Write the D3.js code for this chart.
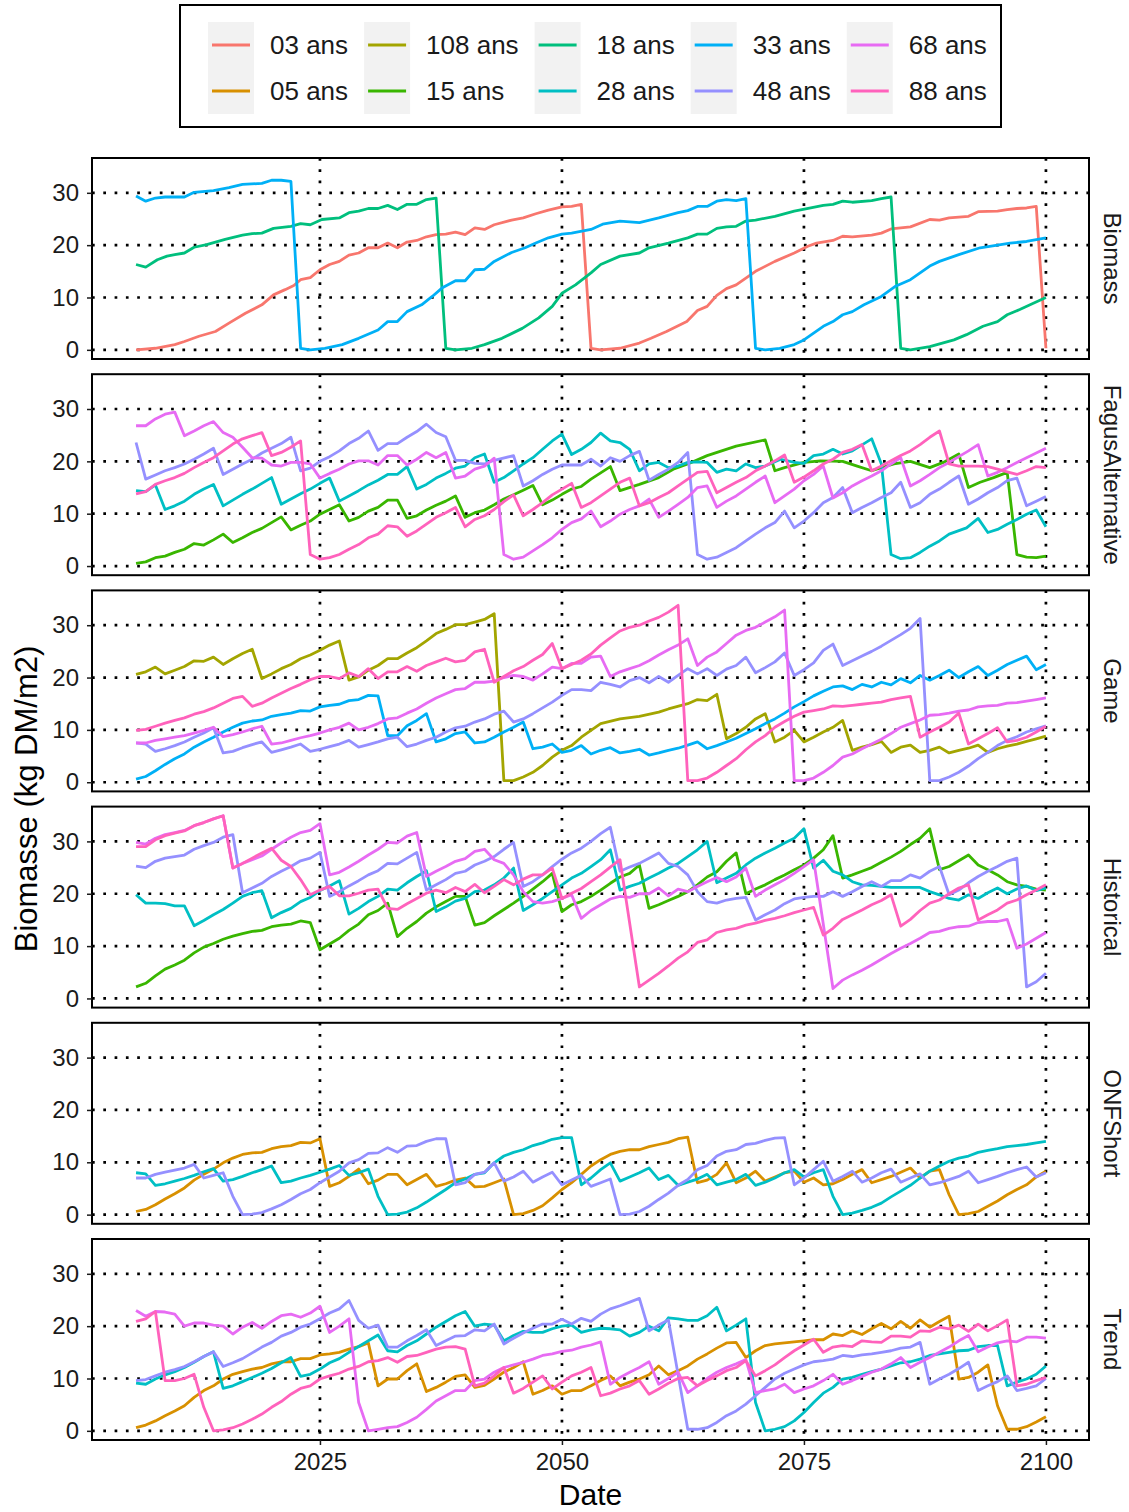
<!DOCTYPE html>
<html lang="fr">
<head>
<meta charset="UTF-8">
<title>Biomasse par scénario</title>
<script src="https://cdnjs.cloudflare.com/ajax/libs/d3/7.8.5/d3.min.js"></script>
<style>
  body { margin: 0; background: #fff; }
  svg { font-family: "Liberation Sans", Arial, sans-serif; }
</style>
</head>
<body>
<div id="chart"></div>
<script>
// facets, colour groups, ticks
const scenarios = ["Biomass", "FagusAlternative", "Game", "Historical", "ONFShort", "Trend"];
const ages = ["03 ans", "05 ans", "108 ans", "15 ans", "18 ans", "28 ans", "33 ans", "48 ans", "68 ans", "88 ans"];
const ageColors = ["#F8766D", "#D89000", "#A3A500", "#39B600", "#00BF7D", "#00BFC4", "#00B0F6", "#9590FF", "#E76BF3", "#FF62BC"];
const yTicks = [0, 10, 20, 30];
const xTicks = [2025, 2050, 2075, 2100];

// ---- Biomass ----
const biomass_03 = [[2006,0],[2008,0.3],[2010,1.0],[2011,1.6],[2012.5,2.6],[2014.2,3.5],[2015.6,5.1],[2017.3,7.0],[2019,8.6],[2020.2,10.5],[2021.4,11.5],[2022.3,12.3],[2023,13.4],[2024,13.8],[2025,15.3],[2026,16.3],[2027,16.9],[2028,18.1],[2029,18.5],[2030,19.5],[2031,19.5],[2032,20.4],[2033,19.5],[2034,20.6],[2035,20.9],[2036,21.6],[2037,22.0],[2038,22.1],[2039,22.5],[2040,22.0],[2041,23.3],[2042,23.0],[2043,23.9],[2044.8,24.8],[2046,25.2],[2047.3,26.0],[2048.6,26.7],[2050,27.3],[2051,27.4],[2052,27.8],[2053,0.3],[2054,0],[2056,0.3],[2058,1.3],[2059.2,2.2],[2060.8,3.5],[2062.9,5.4],[2064,7.5],[2065,8.3],[2066,10.4],[2067,11.7],[2068,12.4],[2069,13.7],[2070,15.0],[2072,16.9],[2074,18.5],[2075.4,19.8],[2076.3,20.4],[2078,20.9],[2079,21.7],[2080,21.6],[2082,21.9],[2083,22.3],[2084,23.1],[2086,23.5],[2088,24.9],[2089,24.8],[2090,25.2],[2092,25.5],[2093,26.4],[2095,26.5],[2096,26.8],[2097,27.0],[2098,27.1],[2099,27.4],[2100,0.3]];
const biomass_18 = [[2006,16.3],[2007,15.8],[2008.2,17.2],[2009.2,17.9],[2010,18.2],[2011,18.5],[2012,19.6],[2013.3,20.1],[2015.2,21.1],[2017,21.9],[2018,22.2],[2019,22.3],[2020.2,23.2],[2022,23.6],[2023,24.1],[2024,23.9],[2025.2,24.9],[2027,25.2],[2028,26.2],[2029,26.5],[2030,27.0],[2031,27.0],[2032,27.6],[2033,26.8],[2034,27.8],[2035,27.8],[2036,28.7],[2037,29.0],[2038,0.3],[2039,0],[2040.7,0.3],[2042,1.0],[2043.8,2.2],[2045.9,4.1],[2047.6,6.1],[2049,8.3],[2050,10.8],[2051.4,12.4],[2053,14.7],[2054,16.3],[2056,17.9],[2058,18.5],[2059,19.5],[2061,20.4],[2063,21.4],[2064,22.1],[2065,22.1],[2066,23.2],[2067,23.5],[2068,23.6],[2069,24.6],[2070,24.8],[2072,25.5],[2074,26.5],[2075.7,27.1],[2077,27.6],[2078,27.8],[2079,28.4],[2080,28.2],[2082,28.5],[2083,28.9],[2084,29.2],[2085,0.3],[2086,0],[2088,0.6],[2090.5,1.9],[2091.8,2.9],[2093.5,4.5],[2095,5.4],[2096,6.7],[2097.3,7.7],[2098.7,8.9],[2100,10.0]];
const biomass_33 = [[2006,29.4],[2007,28.4],[2008,29.0],[2009,29.2],[2011,29.2],[2012,30.1],[2014,30.4],[2015.6,31.0],[2017,31.6],[2019,31.8],[2020,32.4],[2021,32.4],[2022,32.2],[2023,0.3],[2024,0],[2025.5,0.3],[2027.3,1.0],[2029,2.2],[2031,3.8],[2032,5.4],[2033,5.4],[2034,7.3],[2035.5,8.6],[2036.6,10.2],[2037.6,11.8],[2039,13.2],[2040,13.2],[2041,15.3],[2042,15.4],[2043,16.9],[2044.8,18.6],[2046.2,19.5],[2047.3,20.4],[2048.6,21.4],[2050,22.1],[2051,22.3],[2053,23.0],[2054.2,24.0],[2056,24.6],[2058,24.3],[2060,25.2],[2062,26.2],[2063,26.6],[2064,27.4],[2065,27.4],[2066,28.4],[2067,28.7],[2068,28.5],[2069,28.9],[2070,0.3],[2071,0],[2072.5,0.3],[2074,1.0],[2075,1.9],[2076,3.2],[2077,4.5],[2078,5.4],[2079,6.7],[2080,7.3],[2081.2,8.6],[2083,10.2],[2084.4,12.1],[2086,13.4],[2088,16.0],[2089,16.9],[2091,18.2],[2093.2,19.5],[2095,20.0],[2096.3,20.4],[2098,20.7],[2100,21.4]];

// ---- FagusAlternative ----
const fagus_15 = [[2006,0.5],[2007,0.8],[2008,1.6],[2009,1.9],[2010,2.6],[2011,3.2],[2012,4.3],[2013,4.0],[2014,5.0],[2015,6.1],[2016,4.5],[2017,5.4],[2018,6.4],[2019,7.2],[2020,8.3],[2021,9.4],[2022,6.9],[2023,7.8],[2024,8.6],[2025,9.9],[2026,10.8],[2027,11.7],[2028,8.6],[2029,9.3],[2030,10.5],[2031,11.2],[2032,12.6],[2033,12.6],[2034,9.1],[2035,9.6],[2036,10.7],[2037,11.6],[2038,12.4],[2039,13.4],[2040,9.3],[2041,10.2],[2042,10.7],[2043,11.7],[2044,12.8],[2045,13.6],[2046,14.5],[2047,15.4],[2048,11.7],[2049,12.6],[2050,13.7],[2051,14.7],[2052,15.2],[2053,16.6],[2054,17.8],[2055,19.0],[2056,14.4],[2058,15.6],[2060,16.9],[2061.5,18.5],[2063,19.5],[2065,21.1],[2068,22.9],[2071,24.1],[2072,18.2],[2073,18.8],[2075,19.8],[2076.7,20.1],[2079,20.0],[2080.5,19.1],[2082,18.2],[2083,18.8],[2084.3,19.5],[2086,20.0],[2088,18.8],[2089.4,19.8],[2091,21.4],[2092,15.0],[2093.2,16.0],[2094.6,16.9],[2096,17.9],[2097,2.2],[2098,1.7],[2099,1.6],[2100,1.9]];
const fagus_28 = [[2006,14.4],[2007,14.2],[2008,15.5],[2009,10.8],[2010,11.5],[2011,12.4],[2012,13.7],[2013,14.7],[2014,15.6],[2015,11.5],[2016,12.6],[2017,13.7],[2018,14.7],[2019,15.8],[2020,16.9],[2021,11.8],[2022,12.8],[2023,13.8],[2024,14.7],[2025,15.8],[2026,16.8],[2027,12.4],[2028,13.4],[2029,14.4],[2030,15.5],[2031,16.4],[2032,17.5],[2033,17.5],[2034,19.0],[2035,14.7],[2036,15.6],[2037,16.8],[2038,17.7],[2039,18.7],[2040,19.1],[2041,20.7],[2042,21.4],[2043,16.0],[2044,16.9],[2045,18.2],[2046,19.5],[2047,20.7],[2048,22.3],[2049,23.9],[2050,25.2],[2051,21.3],[2052,22.3],[2053,23.6],[2054,25.4],[2055,23.9],[2056,23.6],[2057,22.3],[2058,18.2],[2059,19.5],[2060,19.8],[2061,18.8],[2062,19.1],[2063,19.8],[2064,19.9],[2065,19.8],[2066,17.9],[2067,18.5],[2068,18.2],[2069,19.5],[2070,18.8],[2071,19.1],[2072.6,20.4],[2074,19.8],[2075,19.6],[2076,21.1],[2077,21.4],[2078,22.3],[2079,21.4],[2080,22.0],[2082,24.3],[2083,19.5],[2084,2.2],[2085,1.4],[2086,1.6],[2087,2.6],[2088,3.8],[2089,4.8],[2090,6.1],[2091.8,7.3],[2093,9.1],[2094,6.4],[2095,7.0],[2096,8.0],[2097,8.9],[2098,9.9],[2099,10.7],[2100,7.5]];
const fagus_48 = [[2006,23.6],[2007,16.6],[2008,17.4],[2009,18.2],[2010,18.8],[2011,19.5],[2012,20.4],[2013,21.4],[2014,22.5],[2015,17.5],[2016,18.5],[2017,19.5],[2018,20.4],[2019,21.6],[2020,22.5],[2021,23.4],[2022,24.6],[2023,18.2],[2024,18.7],[2025,20.0],[2026,20.9],[2027,22.0],[2028,23.4],[2029,24.4],[2030,25.8],[2031,22.1],[2032,23.4],[2033,23.4],[2034,24.6],[2035,25.7],[2036,27.1],[2037,25.5],[2038,24.7],[2039,20.2],[2040,20.2],[2041,19.6],[2042,19.5],[2043,20.2],[2045,21.1],[2046,15.3],[2047,16.3],[2048,17.5],[2049,18.5],[2050,19.3],[2051,19.3],[2052,19.3],[2053,20.4],[2054,19.1],[2055,20.7],[2056,20.0],[2057,21.1],[2058,21.9],[2059,16.4],[2060,17.5],[2061,18.5],[2062,19.8],[2063,21.7],[2064,2.2],[2065,1.3],[2066,1.7],[2067,2.6],[2068,3.5],[2069,4.8],[2070,6.1],[2071,7.3],[2072,8.3],[2073,10.5],[2074,7.3],[2075,8.6],[2076,10.2],[2077,12.1],[2078,13.1],[2079,15.0],[2080,10.2],[2081,11.2],[2082,12.1],[2083,13.1],[2084,14.0],[2085,16.0],[2086,11.2],[2087,12.1],[2088,13.7],[2089,14.7],[2090,16.0],[2091,17.2],[2092,11.8],[2093,12.8],[2094,14.0],[2095,15.0],[2096,16.3],[2097,16.8],[2098,11.5],[2099,12.4],[2100,13.3]];
const fagus_68 = [[2006,26.8],[2007,26.8],[2008,28.1],[2009,29.0],[2010,29.4],[2011,24.9],[2012,25.8],[2013,26.8],[2014,27.6],[2015,25.5],[2016,24.6],[2017,22.7],[2018,20.7],[2019,20.6],[2020,19.3],[2021,19.1],[2022,19.8],[2023,19.8],[2024,19.5],[2025,16.8],[2026,17.7],[2027,18.5],[2028,19.5],[2029,20.1],[2030,20.1],[2031,19.3],[2032,21.1],[2033,21.1],[2034,19.3],[2035,20.4],[2036,21.7],[2037,20.7],[2038,21.7],[2039,16.8],[2040,17.2],[2041,18.5],[2042,19.1],[2043,20.6],[2044,2.2],[2045,1.3],[2046,1.7],[2047,2.9],[2048,4.1],[2049,5.4],[2050,7.0],[2051,8.3],[2052,9.0],[2053,10.5],[2054,7.5],[2055,8.6],[2056,9.9],[2057,10.8],[2058,11.5],[2059,12.8],[2060,9.3],[2061,10.5],[2062,11.8],[2063,13.1],[2064,15.0],[2065,15.3],[2066,11.2],[2067,12.4],[2068,13.4],[2069,14.7],[2070,16.0],[2071,17.2],[2072,12.1],[2073,13.4],[2074,14.7],[2075,16.3],[2076,17.5],[2077,19.1],[2078,13.0],[2079,14.0],[2080,15.3],[2081,16.3],[2082,17.2],[2083,18.2],[2084,19.5],[2085,20.7],[2086,15.3],[2087,16.3],[2088,17.5],[2089,18.8],[2090,19.8],[2091,20.9],[2092,22.0],[2093,23.2],[2094,17.2],[2095,17.9],[2096,18.8],[2097,19.8],[2098,20.7],[2099,21.6],[2100,22.5]];
const fagus_88 = [[2006,13.8],[2007,14.2],[2008,15.6],[2009,16.3],[2010,16.9],[2011,17.7],[2012,18.8],[2013,19.8],[2014,20.7],[2015,22.0],[2016,23.3],[2017,24.3],[2018,24.9],[2019,25.5],[2020,21.1],[2021,21.7],[2022,22.7],[2023,23.9],[2024,2.2],[2025,1.3],[2026,1.6],[2027,2.2],[2028,3.2],[2029,4.1],[2030,5.4],[2031,6.1],[2032,7.7],[2033,7.5],[2034,5.7],[2035,6.7],[2036,8.0],[2037,9.3],[2038,10.2],[2039,11.2],[2040,7.5],[2041,8.9],[2042,9.6],[2043,10.8],[2044,12.3],[2045,13.6],[2046,9.6],[2047,10.8],[2048,12.1],[2049,13.6],[2050,14.7],[2051,15.8],[2052,11.2],[2053,12.1],[2054,13.4],[2055,14.7],[2056,16.0],[2057,16.8],[2058,11.5],[2059,12.1],[2060,13.1],[2061,14.0],[2062,15.3],[2063,16.6],[2064,17.9],[2065,18.1],[2066,14.0],[2067,15.0],[2068,16.0],[2069,16.9],[2070,18.2],[2071,19.1],[2072,20.1],[2073,21.2],[2074,16.0],[2075,17.0],[2076,18.2],[2077,19.5],[2078,20.4],[2079,21.7],[2080,22.3],[2081,23.2],[2082,18.2],[2083,19.1],[2084,20.1],[2085,21.1],[2086,22.0],[2087,23.2],[2088,24.6],[2089,25.8],[2090,19.5],[2091,19.1],[2092,19.1],[2093,19.1],[2094,19.0],[2095,18.5],[2096,18.0],[2097,17.5],[2098,18.2],[2099,19.0],[2100,18.8]];

// ---- Game ----
const game_108 = [[2006,20.6],[2007,21.1],[2008,22.0],[2009,20.7],[2010,21.4],[2011,22.1],[2012,23.2],[2013,23.1],[2014,23.9],[2015,22.5],[2016,23.6],[2017,24.6],[2018,25.4],[2019,19.8],[2020,20.7],[2021,21.7],[2022,22.5],[2023,23.6],[2024,24.3],[2025,25.2],[2026,26.2],[2027,27.0],[2028,19.5],[2029,20.1],[2030,21.4],[2031,22.3],[2032,23.6],[2033,23.6],[2034,24.7],[2035,25.7],[2036,27.0],[2037,28.4],[2038,29.2],[2039,30.1],[2040,30.1],[2041,30.6],[2042,31.1],[2043,32.2],[2044,0.3],[2045,0.3],[2046,1.0],[2047,1.9],[2048,3.2],[2049,4.8],[2050,6.1],[2051,7.0],[2052,8.6],[2053,9.9],[2054,11.2],[2056,12.1],[2058,12.6],[2060,13.4],[2061,14.0],[2063,15.0],[2064,15.8],[2065,15.6],[2066,16.8],[2067,8.3],[2068,9.3],[2069,10.5],[2070,12.1],[2071,13.1],[2072,7.7],[2073,8.6],[2074,9.9],[2075,7.7],[2076,8.6],[2077,9.6],[2078,10.5],[2079,11.8],[2080,6.1],[2081,6.7],[2082,7.2],[2083,7.8],[2084,5.7],[2085,6.7],[2086,7.1],[2087,5.7],[2088,6.1],[2089,6.7],[2090,5.6],[2091,6.1],[2092,6.5],[2093,7.1],[2094,5.7],[2095,6.4],[2096,6.9],[2097,7.3],[2098,7.8],[2099,8.3],[2100,8.8]];
const game_33 = [[2006,0.6],[2007,1.1],[2008,2.2],[2009,3.4],[2010,4.5],[2011,5.4],[2012,6.7],[2013,7.7],[2014,8.6],[2015,9.6],[2016,10.5],[2017,11.3],[2018,11.7],[2019,11.9],[2020,12.6],[2021,12.9],[2022,13.2],[2023,13.7],[2024,13.6],[2025,14.4],[2026,14.7],[2027,14.9],[2028,15.6],[2029,15.8],[2030,16.6],[2031,16.5],[2032,8.9],[2033,8.9],[2034,10.8],[2035,11.8],[2036,13.1],[2037,7.7],[2038,8.3],[2039,9.3],[2040,9.6],[2041,7.5],[2042,7.7],[2043,8.6],[2044,9.6],[2045,10.5],[2046,11.5],[2047,6.4],[2048,6.7],[2049,7.3],[2050,5.7],[2051,6.1],[2052,7.0],[2053,5.4],[2054,6.1],[2055,6.6],[2056,5.6],[2057,5.9],[2058,6.3],[2059,5.2],[2060,5.6],[2061,6.1],[2062,6.5],[2063,7.1],[2064,7.7],[2065,6.4],[2066,7.0],[2067,7.7],[2068,8.4],[2069,9.3],[2070,10.2],[2071,11.2],[2072,12.1],[2073,13.2],[2074,14.4],[2075,15.4],[2076,16.5],[2077,17.4],[2078,18.2],[2079,18.4],[2080,17.7],[2081,18.7],[2082,18.2],[2083,19.1],[2084,18.6],[2085,19.8],[2086,19.0],[2087,20.4],[2088,19.5],[2089,20.4],[2090,21.4],[2091,20.0],[2092,21.1],[2093,22.1],[2094,20.4],[2095,21.4],[2096,22.5],[2097,23.3],[2098,24.1],[2099,21.5],[2100,22.5]];
const game_48 = [[2006,7.5],[2007,7.3],[2008,5.9],[2009,6.4],[2010,7.0],[2011,7.7],[2012,8.6],[2013,9.4],[2014,10.4],[2015,5.6],[2016,5.9],[2017,6.6],[2018,7.2],[2019,7.7],[2020,5.7],[2021,6.2],[2022,6.7],[2023,7.3],[2024,5.9],[2025,6.3],[2026,6.8],[2027,7.3],[2028,8.0],[2029,6.7],[2030,7.2],[2031,7.7],[2032,8.3],[2033,8.6],[2034,6.8],[2035,7.3],[2036,8.0],[2037,8.6],[2038,9.6],[2039,10.4],[2040,10.7],[2041,11.5],[2042,12.1],[2043,13.0],[2044,13.6],[2045,11.5],[2046,12.1],[2047,13.1],[2048,14.2],[2049,15.3],[2050,16.6],[2051,17.7],[2052,17.7],[2053,17.5],[2054,19.1],[2055,18.7],[2056,18.2],[2057,19.4],[2058,20.0],[2059,19.0],[2060,20.2],[2061,19.1],[2062,20.4],[2063,21.7],[2064,20.7],[2065,21.7],[2066,20.4],[2067,21.6],[2068,22.3],[2069,23.9],[2070,20.9],[2071,21.9],[2072,23.0],[2073,24.7],[2074,20.4],[2075,21.5],[2076,22.8],[2077,25.2],[2078,26.4],[2079,22.3],[2080,23.2],[2081,24.1],[2082,25.0],[2083,26.0],[2084,27.1],[2085,28.2],[2086,29.4],[2087,31.3],[2088,0.3],[2089,0.3],[2090,1.0],[2091,1.9],[2092,3.1],[2093,4.5],[2094,5.7],[2095,7.0],[2096,8.0],[2097,8.7],[2098,9.6],[2099,10.2],[2100,10.8]];
const game_68 = [[2006,7.5],[2007,7.5],[2008,8.0],[2009,8.3],[2010,8.6],[2011,8.9],[2012,9.4],[2013,9.9],[2014,10.5],[2015,8.7],[2016,9.1],[2017,9.6],[2018,10.2],[2019,10.7],[2020,7.3],[2021,7.5],[2022,8.0],[2023,8.5],[2024,8.9],[2025,9.4],[2026,10.0],[2027,10.5],[2028,11.3],[2029,10.0],[2030,10.5],[2031,11.2],[2032,12.1],[2033,12.3],[2034,13.2],[2035,14.0],[2036,15.1],[2037,16.1],[2038,16.9],[2039,17.7],[2040,17.9],[2041,19.1],[2042,19.1],[2043,19.3],[2044,20.0],[2045,20.4],[2046,20.2],[2047,19.5],[2048,20.7],[2049,22.0],[2050,21.7],[2051,22.7],[2052,22.7],[2053,23.9],[2054,24.1],[2055,20.2],[2056,21.1],[2057,21.7],[2058,22.3],[2059,23.2],[2060,24.3],[2061,25.3],[2062,26.2],[2063,27.4],[2064,22.3],[2065,23.9],[2066,24.9],[2067,26.5],[2068,28.1],[2069,29.0],[2070,29.6],[2071,30.6],[2072,31.6],[2073,32.9],[2074,0.3],[2075,0.3],[2076,0.8],[2077,1.9],[2078,3.2],[2079,4.8],[2080,5.4],[2081,6.4],[2082,7.3],[2083,8.2],[2084,9.3],[2085,10.5],[2086,11.2],[2087,11.9],[2088,12.8],[2089,12.9],[2090,13.2],[2091,13.6],[2092,13.8],[2093,14.4],[2094,14.6],[2095,14.7],[2096,15.1],[2097,15.2],[2098,15.5],[2099,15.8],[2100,16.1]];
const game_88 = [[2006,9.9],[2007,10.1],[2008,10.7],[2009,11.3],[2010,11.8],[2011,12.3],[2012,13.0],[2013,13.5],[2014,14.2],[2015,15.1],[2016,16.0],[2017,16.4],[2018,14.5],[2019,15.1],[2020,16.1],[2021,17.0],[2022,17.9],[2023,18.7],[2024,19.6],[2025,20.2],[2026,20.2],[2027,19.8],[2028,20.9],[2029,20.2],[2030,21.7],[2031,19.8],[2032,21.1],[2033,21.1],[2034,22.1],[2035,21.2],[2036,22.3],[2037,23.0],[2038,23.7],[2039,23.0],[2040,23.3],[2041,24.9],[2042,25.4],[2043,19.1],[2044,20.2],[2045,21.3],[2046,22.1],[2047,23.3],[2048,24.4],[2049,26.5],[2050,21.7],[2051,22.5],[2052,23.3],[2053,24.5],[2054,26.2],[2055,27.6],[2056,28.9],[2057,29.6],[2058,30.0],[2059,30.8],[2060,31.5],[2061,32.5],[2062,33.8],[2063,0.3],[2064,0.3],[2065,0.8],[2066,1.9],[2067,3.2],[2068,4.5],[2069,6.2],[2070,7.7],[2071,8.9],[2072,10.5],[2073,11.6],[2074,12.6],[2075,13.4],[2076,13.7],[2077,14.0],[2078,14.6],[2079,14.5],[2080,14.7],[2081,14.9],[2082,15.1],[2083,15.3],[2084,15.8],[2085,16.1],[2086,16.4],[2087,8.6],[2088,9.6],[2089,10.5],[2090,11.5],[2091,13.2],[2092,7.3],[2093,8.3],[2094,9.3],[2095,10.4],[2096,7.7],[2097,8.0],[2098,8.6],[2099,9.6],[2100,10.7]];

// ---- Historical ----
const hist_15 = [[2006,2.2],[2007,2.9],[2008,4.3],[2009,5.6],[2010,6.4],[2011,7.3],[2012,8.7],[2013,9.8],[2014,10.5],[2015,11.3],[2016,11.9],[2017,12.4],[2018,12.8],[2019,13.0],[2020,13.7],[2021,14.0],[2022,14.2],[2023,14.8],[2024,14.5],[2025,9.3],[2026,10.4],[2027,11.5],[2028,13.0],[2029,14.2],[2030,16.0],[2031,16.8],[2032,18.2],[2033,11.8],[2034,13.4],[2035,14.7],[2036,16.3],[2037,17.5],[2038,18.5],[2039,19.5],[2040,19.5],[2041,14.0],[2042,14.5],[2043,15.8],[2044,17.0],[2045,18.2],[2046,19.5],[2047,20.9],[2048,22.3],[2049,23.9],[2050,16.6],[2051,17.9],[2052,18.5],[2053,19.5],[2054,20.7],[2055,22.0],[2056,23.2],[2057,23.9],[2058,25.5],[2059,17.2],[2060,17.9],[2061,18.7],[2062,19.5],[2063,20.4],[2064,21.7],[2065,23.2],[2066,24.2],[2067,26.2],[2068,27.8],[2069,20.0],[2070,20.9],[2071,21.7],[2072,22.7],[2073,23.6],[2074,24.6],[2075,25.5],[2076,26.8],[2077,28.4],[2078,31.1],[2079,23.0],[2080,23.6],[2081,24.3],[2082,25.0],[2083,26.0],[2084,27.0],[2085,28.1],[2086,29.4],[2087,30.6],[2088,32.4],[2089,24.6],[2090,25.2],[2091,26.3],[2092,27.4],[2093,25.5],[2094,24.6],[2095,23.6],[2096,22.3],[2097,21.7],[2098,21.4],[2099,20.9],[2100,20.7]];
const hist_28 = [[2006,19.8],[2007,18.2],[2008,18.2],[2009,18.1],[2010,17.7],[2011,17.7],[2012,13.9],[2013,14.9],[2014,16.0],[2015,17.0],[2016,18.2],[2017,19.5],[2018,20.2],[2019,20.6],[2020,15.4],[2021,16.4],[2022,17.2],[2023,18.5],[2024,19.3],[2025,20.6],[2026,21.5],[2027,22.5],[2028,16.1],[2029,17.2],[2030,18.5],[2031,19.5],[2032,20.9],[2033,20.7],[2034,22.1],[2035,23.3],[2036,24.4],[2037,16.6],[2038,17.5],[2039,18.6],[2040,19.1],[2041,20.4],[2042,20.7],[2043,21.7],[2044,23.0],[2045,24.9],[2046,16.8],[2047,17.9],[2048,19.1],[2049,20.4],[2050,21.7],[2051,23.0],[2052,23.9],[2053,25.2],[2054,26.5],[2055,28.4],[2056,20.7],[2057,21.4],[2058,22.0],[2059,23.0],[2060,23.9],[2061,24.9],[2062,25.8],[2063,27.1],[2064,28.4],[2065,30.0],[2066,22.1],[2067,23.0],[2068,23.9],[2069,25.5],[2070,26.8],[2071,27.8],[2072,28.7],[2073,29.7],[2074,30.6],[2075,32.4],[2076,24.9],[2077,26.4],[2078,24.3],[2079,23.6],[2080,22.3],[2081,21.7],[2082,21.6],[2083,21.4],[2084,21.2],[2085,21.2],[2086,21.2],[2087,21.2],[2088,20.4],[2089,19.8],[2090,19.1],[2091,18.8],[2092,19.8],[2093,19.1],[2094,20.2],[2095,21.1],[2096,20.0],[2097,20.9],[2098,21.5],[2099,20.6],[2100,21.1]];
const hist_48 = [[2006,25.3],[2007,25.0],[2008,26.2],[2009,26.8],[2010,27.1],[2011,27.4],[2012,28.5],[2013,29.2],[2014,29.8],[2015,30.8],[2016,31.3],[2017,20.2],[2018,21.1],[2019,22.0],[2020,23.3],[2021,24.3],[2022,25.2],[2023,26.3],[2024,26.8],[2025,27.9],[2026,19.5],[2027,20.4],[2028,21.5],[2029,22.5],[2030,23.6],[2031,24.4],[2032,25.8],[2033,25.7],[2034,26.8],[2035,27.9],[2036,20.7],[2037,21.7],[2038,22.7],[2039,23.9],[2040,24.3],[2041,25.5],[2042,26.2],[2043,27.1],[2044,28.5],[2045,29.8],[2046,21.4],[2047,22.3],[2048,23.6],[2049,25.2],[2050,26.6],[2051,27.8],[2052,28.7],[2053,30.0],[2054,31.5],[2055,32.7],[2056,24.3],[2057,25.1],[2058,25.8],[2059,26.8],[2060,27.8],[2061,25.8],[2062,25.2],[2063,23.6],[2064,20.4],[2065,18.5],[2066,18.2],[2067,18.8],[2068,19.1],[2069,19.3],[2070,15.0],[2071,16.0],[2072,16.9],[2073,18.1],[2074,19.0],[2075,19.3],[2076,19.5],[2077,19.5],[2078,20.4],[2079,19.5],[2080,20.4],[2081,21.4],[2082,22.3],[2083,21.4],[2084,22.5],[2085,22.5],[2086,23.6],[2087,23.0],[2088,24.3],[2089,25.2],[2090,19.8],[2091,20.7],[2092,22.1],[2093,23.3],[2094,24.3],[2095,25.2],[2096,26.2],[2097,26.8],[2098,2.2],[2099,3.2],[2100,4.8]];
const hist_68 = [[2006,29.8],[2007,29.5],[2008,30.6],[2009,31.3],[2010,31.7],[2011,32.1],[2012,33.0],[2013,33.6],[2014,34.3],[2015,34.9],[2016,24.9],[2017,25.8],[2018,26.5],[2019,27.2],[2020,28.5],[2021,29.7],[2022,30.8],[2023,31.7],[2024,32.1],[2025,33.4],[2026,23.6],[2027,24.1],[2028,25.1],[2029,26.2],[2030,27.4],[2031,28.5],[2032,29.8],[2033,29.7],[2034,31.0],[2035,31.7],[2036,23.3],[2037,24.3],[2038,25.2],[2039,26.2],[2040,26.7],[2041,28.1],[2042,28.5],[2043,26.5],[2044,25.8],[2045,23.6],[2046,20.4],[2047,18.5],[2048,18.2],[2049,18.5],[2050,19.1],[2051,19.8],[2052,15.3],[2053,16.8],[2054,17.9],[2055,19.0],[2056,19.5],[2057,19.3],[2058,20.0],[2059,20.0],[2060,21.1],[2061,19.6],[2062,20.9],[2063,20.4],[2064,21.4],[2065,22.3],[2066,23.1],[2067,22.3],[2068,23.2],[2069,24.9],[2070,19.5],[2071,20.7],[2072,21.7],[2073,22.7],[2074,23.9],[2075,25.2],[2076,26.5],[2078,1.9],[2079,3.5],[2080,4.5],[2081,5.4],[2082,6.4],[2083,7.5],[2084,8.6],[2085,9.6],[2086,10.5],[2087,11.5],[2088,12.6],[2089,12.8],[2090,13.4],[2091,13.7],[2092,13.8],[2093,14.5],[2094,14.7],[2095,14.7],[2096,15.1],[2097,9.6],[2098,10.4],[2099,11.5],[2100,12.6]];
const hist_88 = [[2006,29.0],[2007,29.0],[2008,30.3],[2009,31.1],[2010,31.6],[2011,32.0],[2012,33.0],[2013,33.6],[2014,34.3],[2015,34.9],[2016,24.9],[2017,25.8],[2018,26.8],[2019,27.8],[2020,28.7],[2021,26.4],[2022,25.2],[2023,22.7],[2024,19.8],[2025,20.7],[2026,21.4],[2027,19.6],[2028,19.6],[2029,20.1],[2030,20.7],[2031,20.9],[2032,17.2],[2033,17.0],[2034,18.1],[2035,19.1],[2036,20.1],[2037,20.7],[2038,20.2],[2039,21.2],[2040,20.4],[2041,21.8],[2042,20.2],[2043,21.4],[2044,22.7],[2045,21.7],[2046,22.8],[2047,23.6],[2048,23.6],[2049,24.9],[2050,19.1],[2051,20.1],[2052,21.0],[2053,22.3],[2054,23.6],[2055,25.1],[2056,26.5],[2058,2.2],[2059,3.5],[2060,4.8],[2061,6.2],[2062,7.7],[2063,8.9],[2064,10.7],[2065,11.2],[2066,12.6],[2067,13.1],[2068,13.4],[2069,14.0],[2070,14.4],[2071,14.9],[2072,15.3],[2073,15.8],[2074,16.4],[2075,16.9],[2076,17.4],[2077,12.1],[2078,13.4],[2079,15.1],[2080,16.0],[2081,16.9],[2082,17.9],[2083,18.7],[2084,19.8],[2085,13.8],[2086,15.1],[2087,16.8],[2088,18.2],[2089,18.8],[2090,20.0],[2091,21.1],[2092,21.7],[2093,15.0],[2094,16.0],[2095,16.9],[2096,18.2],[2097,18.8],[2098,19.8],[2099,20.7],[2100,21.7]];

// ---- ONFShort ----
const onf_05 = [[2006,0.6],[2007,1.0],[2008,1.9],[2009,3.0],[2010,4.0],[2011,5.1],[2012,6.6],[2013,7.7],[2014,8.7],[2015,9.9],[2016,10.8],[2017,11.5],[2018,11.8],[2019,11.9],[2020,12.6],[2021,13.0],[2022,13.2],[2023,13.8],[2024,13.7],[2025,14.5],[2026,5.4],[2027,6.1],[2028,7.3],[2029,8.7],[2030,5.9],[2031,6.6],[2032,7.7],[2033,7.7],[2034,5.7],[2035,6.7],[2036,7.7],[2037,5.4],[2038,5.9],[2039,6.6],[2040,7.0],[2041,5.3],[2042,5.4],[2043,6.1],[2044,6.8],[2045,0],[2046,0.2],[2047,0.8],[2048,1.7],[2049,3.2],[2050,4.8],[2051,6.1],[2052,7.7],[2053,9.3],[2054,10.5],[2055,11.5],[2056,12.1],[2057,12.4],[2058,12.4],[2059,13.0],[2060,13.4],[2061,13.8],[2062,14.5],[2063,14.8],[2064,6.1],[2065,6.6],[2066,7.7],[2067,9.9],[2068,6.1],[2069,7.0],[2070,8.3],[2071,6.4],[2072,7.2],[2073,8.0],[2074,8.3],[2075,6.2],[2076,7.0],[2077,5.7],[2078,5.9],[2079,6.7],[2080,7.7],[2081,8.6],[2082,6.1],[2083,6.7],[2084,7.3],[2085,8.1],[2086,8.9],[2087,7.0],[2088,8.3],[2089,8.6],[2090,3.8],[2091,0],[2092,0.2],[2093,0.6],[2094,1.6],[2095,2.6],[2096,3.8],[2097,4.8],[2098,5.7],[2099,7.2],[2100,8.3]];
const onf_28 = [[2006,8.0],[2007,7.8],[2008,5.6],[2009,5.9],[2010,6.4],[2011,6.9],[2012,7.5],[2013,8.2],[2014,8.8],[2015,6.4],[2016,6.7],[2017,7.3],[2018,8.0],[2019,8.6],[2020,9.3],[2021,6.1],[2022,6.4],[2023,7.0],[2024,7.5],[2025,8.1],[2026,8.7],[2027,9.4],[2028,7.5],[2029,8.0],[2030,8.7],[2031,3.5],[2032,0],[2033,0.1],[2034,0.5],[2035,1.3],[2036,2.4],[2037,3.6],[2038,4.8],[2039,6.1],[2040,6.8],[2041,7.7],[2042,8.0],[2043,9.9],[2044,11.2],[2045,11.9],[2046,12.4],[2047,13.2],[2048,13.7],[2049,14.4],[2050,14.7],[2051,14.7],[2052,5.7],[2053,7.0],[2054,8.6],[2055,9.9],[2056,6.4],[2057,7.2],[2058,8.0],[2059,8.9],[2060,6.7],[2061,7.5],[2062,5.6],[2063,6.2],[2064,6.8],[2065,7.7],[2066,5.7],[2067,6.2],[2068,6.7],[2069,7.7],[2070,5.6],[2071,6.2],[2072,7.0],[2073,8.0],[2074,8.6],[2075,7.2],[2076,8.0],[2077,8.6],[2078,3.5],[2079,0],[2080,0.3],[2081,0.8],[2082,1.4],[2083,2.2],[2084,3.4],[2085,4.5],[2086,5.6],[2087,7.0],[2088,8.3],[2089,9.3],[2090,10.2],[2091,10.8],[2092,11.2],[2093,11.9],[2094,12.3],[2095,12.6],[2096,13.0],[2097,13.2],[2098,13.4],[2099,13.7],[2100,14.0]];
const onf_48 = [[2006,7.0],[2007,7.0],[2008,7.7],[2009,8.1],[2010,8.5],[2011,8.9],[2012,9.6],[2013,7.0],[2014,7.5],[2015,8.0],[2016,3.5],[2017,0],[2018,0.1],[2019,0.4],[2020,1.1],[2021,1.9],[2022,2.9],[2023,4.0],[2024,4.8],[2025,6.1],[2026,7.2],[2027,8.3],[2028,9.9],[2029,10.5],[2030,11.7],[2031,11.8],[2032,12.8],[2033,11.9],[2034,13.1],[2035,13.2],[2036,14.0],[2037,14.5],[2038,14.5],[2039,5.7],[2040,6.1],[2041,7.7],[2042,8.1],[2043,9.9],[2044,6.4],[2045,7.2],[2046,8.3],[2047,6.2],[2048,7.2],[2049,8.1],[2050,5.7],[2051,6.6],[2052,7.5],[2053,5.4],[2054,6.1],[2055,6.8],[2056,0],[2057,0.1],[2058,0.6],[2059,1.6],[2060,2.9],[2061,4.1],[2062,5.6],[2063,6.7],[2064,8.6],[2065,9.4],[2066,11.2],[2067,12.1],[2068,12.4],[2069,13.4],[2070,13.6],[2071,14.2],[2072,14.6],[2073,14.7],[2074,5.7],[2075,7.0],[2076,8.6],[2077,10.2],[2078,6.4],[2079,7.3],[2080,8.3],[2081,6.2],[2082,7.0],[2083,8.0],[2084,8.7],[2085,6.2],[2086,7.0],[2087,7.8],[2088,5.7],[2089,6.1],[2090,6.7],[2091,7.3],[2092,8.3],[2093,6.1],[2094,6.7],[2095,7.3],[2096,8.0],[2097,8.6],[2098,9.1],[2099,7.2],[2100,8.0]];

// ---- Trend ----
const trend_05 = [[2006,0.6],[2007,1.1],[2008,1.9],[2009,2.9],[2010,3.8],[2011,4.8],[2012,6.4],[2013,7.7],[2014,8.6],[2015,9.9],[2016,10.8],[2017,11.3],[2018,11.8],[2019,12.1],[2020,12.8],[2021,13.2],[2022,13.2],[2023,13.8],[2024,13.8],[2025,14.5],[2026,14.7],[2027,15.0],[2028,15.6],[2029,16.1],[2030,16.8],[2031,8.6],[2032,9.9],[2033,9.9],[2034,11.5],[2035,12.8],[2036,7.5],[2037,8.3],[2038,9.3],[2039,10.4],[2040,10.7],[2041,8.3],[2042,8.7],[2043,9.9],[2044,11.2],[2045,12.1],[2046,13.2],[2047,7.0],[2048,7.7],[2049,8.6],[2050,7.0],[2051,7.7],[2052,7.7],[2053,8.6],[2054,9.6],[2055,10.5],[2056,8.6],[2057,9.3],[2058,9.9],[2059,10.7],[2060,12.4],[2061,10.7],[2062,11.5],[2063,12.4],[2064,13.7],[2065,14.7],[2066,15.8],[2067,16.8],[2068,16.9],[2069,14.0],[2070,15.3],[2071,16.3],[2072,16.6],[2073,16.8],[2074,17.0],[2075,17.2],[2076,17.4],[2077,17.4],[2078,18.5],[2079,18.2],[2080,19.1],[2081,18.4],[2082,19.5],[2083,20.5],[2084,19.5],[2085,20.9],[2086,19.6],[2087,21.2],[2088,19.8],[2089,20.9],[2090,21.9],[2091,9.9],[2092,10.2],[2093,11.2],[2094,12.6],[2095,4.8],[2096,0.3],[2097,0.3],[2098,0.8],[2099,1.7],[2100,2.7]];
const trend_28 = [[2006,9.1],[2007,8.9],[2008,9.9],[2009,10.7],[2010,11.3],[2011,12.1],[2012,13.1],[2013,14.2],[2014,15.1],[2015,8.1],[2016,8.6],[2017,9.4],[2018,10.2],[2019,11.0],[2020,11.9],[2021,13.0],[2022,14.0],[2023,10.4],[2024,10.8],[2025,11.8],[2026,13.0],[2027,13.8],[2028,15.0],[2029,16.1],[2030,17.2],[2031,18.3],[2032,15.3],[2033,15.1],[2034,16.3],[2035,17.2],[2036,18.5],[2037,19.8],[2038,20.9],[2039,22.0],[2040,22.8],[2041,20.0],[2042,20.4],[2043,20.2],[2044,17.2],[2045,18.2],[2046,19.0],[2047,18.8],[2048,18.8],[2049,19.5],[2050,20.0],[2051,20.2],[2052,18.8],[2053,19.3],[2054,19.6],[2055,19.5],[2056,19.3],[2057,18.1],[2058,18.8],[2059,20.0],[2060,19.1],[2061,21.6],[2062,21.4],[2063,21.1],[2064,21.1],[2065,22.0],[2066,23.6],[2067,19.1],[2068,20.2],[2069,21.4],[2070,5.4],[2071,0],[2072,0.3],[2073,0.8],[2074,1.9],[2075,3.5],[2076,5.4],[2077,7.2],[2078,8.3],[2079,9.9],[2080,10.2],[2081,10.8],[2082,11.3],[2083,11.8],[2084,12.4],[2085,13.0],[2086,13.2],[2087,13.7],[2088,14.4],[2089,14.7],[2090,15.0],[2091,15.3],[2092,15.4],[2093,16.1],[2094,16.3],[2095,16.3],[2096,8.6],[2097,9.3],[2098,9.9],[2099,10.8],[2100,12.4]];
const trend_48 = [[2006,9.6],[2007,9.8],[2008,10.5],[2009,11.2],[2010,11.7],[2011,12.3],[2012,13.2],[2013,14.2],[2014,15.1],[2015,12.3],[2016,13.0],[2017,13.8],[2018,14.9],[2019,16.0],[2020,16.9],[2021,18.1],[2022,18.8],[2023,19.8],[2024,20.4],[2025,21.4],[2026,22.5],[2027,23.3],[2028,24.9],[2029,21.1],[2030,19.6],[2031,20.2],[2032,16.0],[2033,16.0],[2034,17.2],[2035,18.2],[2036,19.3],[2037,16.3],[2038,17.2],[2039,18.1],[2040,18.2],[2041,19.3],[2042,19.1],[2043,20.4],[2044,16.6],[2045,17.7],[2046,18.7],[2047,19.6],[2048,20.4],[2049,20.4],[2050,21.3],[2051,20.4],[2052,21.5],[2053,20.9],[2054,22.3],[2055,23.3],[2056,23.9],[2057,24.6],[2058,25.3],[2059,19.1],[2060,20.2],[2061,21.2],[2063,0.3],[2064,0.3],[2065,0.6],[2066,1.6],[2067,2.9],[2068,3.8],[2069,5.1],[2070,6.7],[2071,8.3],[2072,9.9],[2073,11.0],[2074,11.8],[2075,12.6],[2076,13.2],[2077,13.4],[2078,13.7],[2079,14.4],[2080,14.2],[2081,14.5],[2082,14.7],[2083,15.0],[2084,15.3],[2085,15.8],[2086,16.0],[2087,16.9],[2088,8.9],[2089,9.9],[2090,10.8],[2091,11.9],[2092,13.1],[2093,7.7],[2094,8.6],[2095,9.4],[2096,10.5],[2097,7.7],[2098,8.1],[2099,8.6],[2100,10.0]];
const trend_68 = [[2006,23.0],[2007,21.9],[2008,22.8],[2009,22.7],[2010,22.3],[2011,20.0],[2012,20.6],[2013,20.6],[2014,20.2],[2015,20.0],[2016,18.5],[2017,19.8],[2018,20.7],[2019,19.6],[2020,20.9],[2021,22.0],[2022,22.3],[2023,21.7],[2024,22.5],[2025,23.8],[2026,18.8],[2027,20.0],[2028,21.4],[2029,5.4],[2030,0],[2031,0.3],[2032,0.6],[2033,0.8],[2034,1.6],[2035,2.6],[2036,4.1],[2037,5.7],[2038,6.7],[2039,7.7],[2040,7.7],[2041,9.6],[2042,9.9],[2043,11.2],[2044,12.1],[2045,12.6],[2046,13.1],[2047,13.7],[2048,14.4],[2049,14.7],[2050,15.2],[2051,15.4],[2052,16.0],[2053,16.4],[2054,17.0],[2055,8.9],[2056,10.2],[2057,11.2],[2058,12.1],[2059,13.2],[2060,8.9],[2061,10.0],[2062,11.2],[2063,7.3],[2064,8.6],[2065,10.0],[2066,11.2],[2067,12.1],[2068,12.8],[2069,13.6],[2070,7.3],[2071,7.7],[2072,8.0],[2073,8.9],[2074,7.3],[2075,8.0],[2076,8.6],[2077,9.6],[2078,10.8],[2079,8.9],[2080,9.6],[2081,10.4],[2082,11.2],[2083,11.8],[2084,12.8],[2085,14.0],[2086,12.1],[2087,13.1],[2088,14.0],[2089,15.0],[2090,16.0],[2091,17.2],[2092,18.2],[2093,15.1],[2094,16.0],[2095,16.8],[2096,17.2],[2097,17.0],[2098,17.9],[2099,17.9],[2100,17.7]];
const trend_88 = [[2006,20.9],[2007,21.4],[2008,22.8],[2009,9.6],[2010,9.6],[2011,10.0],[2012,10.8],[2013,4.5],[2014,0],[2015,0.2],[2016,0.6],[2017,1.3],[2018,2.2],[2019,3.2],[2020,4.5],[2021,5.6],[2022,7.0],[2023,8.1],[2024,8.6],[2025,9.9],[2026,10.5],[2027,11.0],[2028,11.8],[2029,12.3],[2030,13.2],[2031,13.4],[2032,14.0],[2033,13.1],[2034,14.2],[2035,14.4],[2036,15.0],[2037,15.6],[2038,16.0],[2039,16.1],[2040,15.6],[2041,8.6],[2042,9.1],[2043,10.5],[2044,12.1],[2045,7.2],[2046,8.1],[2047,9.3],[2048,10.5],[2049,8.0],[2050,9.3],[2051,10.5],[2052,11.2],[2053,12.1],[2054,6.7],[2055,7.2],[2056,8.0],[2057,8.6],[2058,9.6],[2059,7.0],[2060,8.0],[2061,9.1],[2062,10.0],[2063,10.2],[2064,8.6],[2065,9.6],[2066,10.5],[2067,11.5],[2068,12.1],[2069,13.4],[2070,10.5],[2071,11.5],[2072,12.6],[2073,14.0],[2074,15.3],[2075,16.4],[2076,17.5],[2077,15.0],[2078,16.0],[2079,16.3],[2080,16.1],[2081,17.2],[2082,17.0],[2083,16.9],[2084,18.1],[2085,18.1],[2086,17.9],[2087,19.1],[2088,19.0],[2089,19.8],[2090,19.5],[2091,20.2],[2092,19.0],[2093,20.4],[2094,19.1],[2095,20.1],[2096,21.2],[2097,8.6],[2098,8.9],[2099,9.6],[2100,10.2]];

// which series belong to which panel
const series = [
  { scen: "Biomass", age: "03 ans", pts: biomass_03 },
  { scen: "Biomass", age: "18 ans", pts: biomass_18 },
  { scen: "Biomass", age: "33 ans", pts: biomass_33 },
  { scen: "FagusAlternative", age: "15 ans", pts: fagus_15 },
  { scen: "FagusAlternative", age: "28 ans", pts: fagus_28 },
  { scen: "FagusAlternative", age: "48 ans", pts: fagus_48 },
  { scen: "FagusAlternative", age: "68 ans", pts: fagus_68 },
  { scen: "FagusAlternative", age: "88 ans", pts: fagus_88 },
  { scen: "Game", age: "108 ans", pts: game_108 },
  { scen: "Game", age: "33 ans", pts: game_33 },
  { scen: "Game", age: "48 ans", pts: game_48 },
  { scen: "Game", age: "68 ans", pts: game_68 },
  { scen: "Game", age: "88 ans", pts: game_88 },
  { scen: "Historical", age: "15 ans", pts: hist_15 },
  { scen: "Historical", age: "28 ans", pts: hist_28 },
  { scen: "Historical", age: "48 ans", pts: hist_48 },
  { scen: "Historical", age: "68 ans", pts: hist_68 },
  { scen: "Historical", age: "88 ans", pts: hist_88 },
  { scen: "ONFShort", age: "05 ans", pts: onf_05 },
  { scen: "ONFShort", age: "28 ans", pts: onf_28 },
  { scen: "ONFShort", age: "48 ans", pts: onf_48 },
  { scen: "Trend", age: "05 ans", pts: trend_05 },
  { scen: "Trend", age: "28 ans", pts: trend_28 },
  { scen: "Trend", age: "48 ans", pts: trend_48 },
  { scen: "Trend", age: "68 ans", pts: trend_68 },
  { scen: "Trend", age: "88 ans", pts: trend_88 }
];

// ---- layout ----
const width = 1129, height = 1512;
const left = 92, right = 1089;
const firstTop = 158, panelStep = 216.2, panelH = 201;
const textCol = "#1a1a1a";

const svg = d3.select("#chart").append("svg")
  .attr("width", width).attr("height", height);

const x = d3.scaleLinear().domain([2001.45, 2104.45]).range([left, right]);
const y = d3.scaleLinear().domain([-1.75, 36.65]).range([panelH, 0]);
const color = d3.scaleOrdinal().domain(ages).range(ageColors);
const line = d3.line().x(d => x(d[0])).y(d => y(d[1]));

// legend
const legend = svg.append("g");
legend.append("rect")
  .attr("x", 180).attr("y", 5).attr("width", 821).attr("height", 122)
  .attr("fill", "white").attr("stroke", "black").attr("stroke-width", 2);
let lx = 208;
for (let c = 0; c < 5; c++) {
  const pair = ages.slice(c * 2, c * 2 + 2);
  let maxW = 0;
  pair.forEach((a, r) => {
    const ky = 22 + r * 46;
    legend.append("rect").attr("x", lx).attr("y", ky).attr("width", 46).attr("height", 46).attr("fill", "#f2f2f2");
    legend.append("line")
      .attr("x1", lx + 4).attr("x2", lx + 42).attr("y1", ky + 23).attr("y2", ky + 23)
      .attr("stroke", color(a)).attr("stroke-width", 2.8);
    const t = legend.append("text")
      .attr("x", lx + 62).attr("y", ky + 23).attr("dy", "0.35em")
      .style("font-size", "26px").attr("fill", textCol).text(a);
    maxW = Math.max(maxW, t.node().getComputedTextLength());
  });
  lx += 46 + 16 + maxW + 16;
}

// panels
scenarios.forEach((scen, i) => {
  const top = firstTop + i * panelStep;
  const g = svg.append("g").attr("transform", `translate(0,${top})`);

  g.append("rect").attr("x", left).attr("y", 0)
    .attr("width", right - left).attr("height", panelH).attr("fill", "white");

  // dotted major grid
  g.selectAll(".hgrid").data(yTicks).enter().append("line")
    .attr("x1", left).attr("x2", right)
    .attr("y1", d => y(d)).attr("y2", d => y(d))
    .attr("stroke", "black").attr("stroke-width", 2.7)
    .attr("stroke-dasharray", "2.7,8.6");
  g.selectAll(".vgrid").data(xTicks).enter().append("line")
    .attr("x1", d => x(d)).attr("x2", d => x(d))
    .attr("y1", 0).attr("y2", panelH)
    .attr("stroke", "black").attr("stroke-width", 2.7)
    .attr("stroke-dasharray", "2.7,8.6");

  // series, drawn in legend order
  const here = series.filter(s => s.scen === scen)
    .sort((a, b) => ages.indexOf(a.age) - ages.indexOf(b.age));
  g.selectAll(".series").data(here).enter().append("path")
    .attr("d", d => line(d.pts))
    .attr("fill", "none")
    .attr("stroke", d => color(d.age))
    .attr("stroke-width", 2.8)
    .attr("stroke-linejoin", "round")
    .attr("stroke-linecap", "butt");

  g.append("rect").attr("x", left).attr("y", 0)
    .attr("width", right - left).attr("height", panelH)
    .attr("fill", "none").attr("stroke", "black").attr("stroke-width", 2);

  const yAxis = g.append("g").attr("transform", `translate(${left},0)`)
    .call(d3.axisLeft(y).tickValues(yTicks).tickSize(5).tickPadding(8));
  yAxis.select(".domain").remove();
  yAxis.selectAll("line").attr("stroke", textCol).attr("stroke-width", 1.5);
  yAxis.selectAll("text").style("font-size", "24px").attr("fill", textCol)
    .style("font-family", "'Liberation Sans', Arial, sans-serif");

  // strip label on the right
  g.append("text")
    .attr("transform", `translate(1104,${panelH / 2}) rotate(90)`)
    .attr("text-anchor", "middle")
    .style("font-size", "24px").attr("fill", textCol)
    .text(scen);

  if (i === scenarios.length - 1) {
    const xAxis = g.append("g").attr("transform", `translate(0,${panelH})`)
      .call(d3.axisBottom(x).tickValues(xTicks).tickFormat(d3.format("d")).tickSize(5).tickPadding(8));
    xAxis.select(".domain").remove();
    xAxis.selectAll("line").attr("stroke", textCol).attr("stroke-width", 1.5);
    xAxis.selectAll("text").style("font-size", "24px").attr("fill", textCol)
      .style("font-family", "'Liberation Sans', Arial, sans-serif");
  }
});

// axis titles
const midY = firstTop + (5 * panelStep + panelH) / 2;
svg.append("text")
  .attr("transform", `translate(37,${midY}) rotate(-90)`)
  .attr("text-anchor", "middle")
  .style("font-size", "31px").attr("fill", "black")
  .text("Biomasse (kg DM/m2)");
svg.append("text")
  .attr("x", (left + right) / 2).attr("y", 1505)
  .attr("text-anchor", "middle")
  .style("font-size", "30px").attr("fill", "black")
  .text("Date");
</script>
</body>
</html>
